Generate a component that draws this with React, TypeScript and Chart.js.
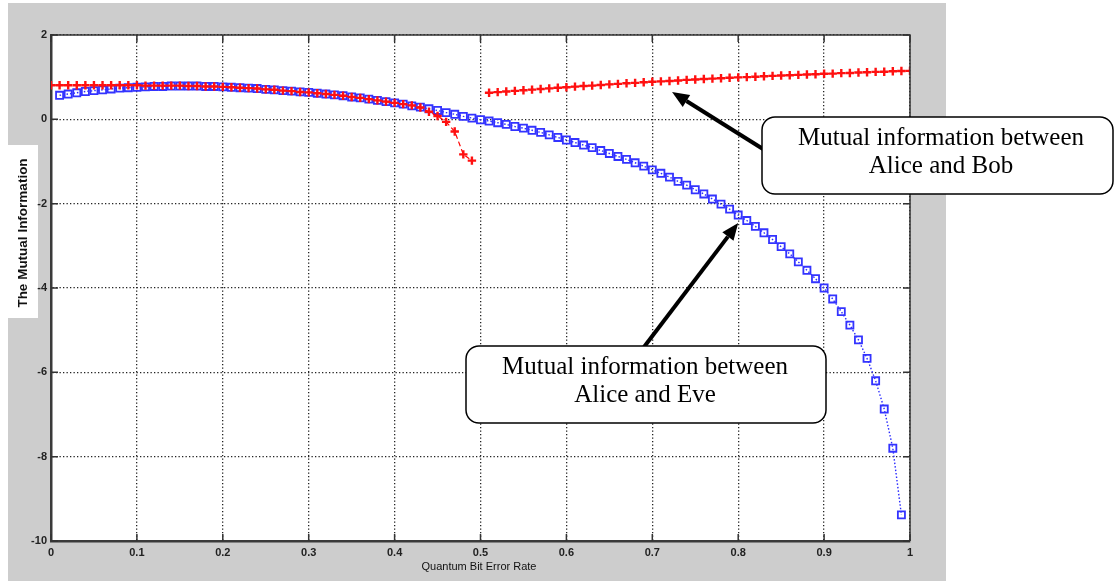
import React, { useEffect, useRef } from "react";
import { Chart, registerables } from "chart.js";

Chart.register(...registerables);

// ---------------- data ----------------
const qber = [
  0.0, 0.01, 0.02, 0.03, 0.04, 0.05, 0.06, 0.07, 0.08, 0.09,
  0.1, 0.11, 0.12, 0.13, 0.14, 0.15, 0.16, 0.17, 0.18, 0.19,
  0.2, 0.21, 0.22, 0.23, 0.24, 0.25, 0.26, 0.27, 0.28, 0.29,
  0.3, 0.31, 0.32, 0.33, 0.34, 0.35, 0.36, 0.37, 0.38, 0.39,
  0.4, 0.41, 0.42, 0.43, 0.44, 0.45, 0.46, 0.47, 0.48, 0.49,
  0.5, 0.51, 0.52, 0.53, 0.54, 0.55, 0.56, 0.57, 0.58, 0.59,
  0.6, 0.61, 0.62, 0.63, 0.64, 0.65, 0.66, 0.67, 0.68, 0.69,
  0.7, 0.71, 0.72, 0.73, 0.74, 0.75, 0.76, 0.77, 0.78, 0.79,
  0.8, 0.81, 0.82, 0.83, 0.84, 0.85, 0.86, 0.87, 0.88, 0.89,
  0.9, 0.91, 0.92, 0.93, 0.94, 0.95, 0.96, 0.97, 0.98, 0.99,
  1.0,
];

// Mutual information between Alice and Bob (red, '+')
const aliceBob: (number | null)[] = [
  0.81, 0.81, 0.81, 0.81, 0.81, 0.81, 0.81, 0.81, 0.81, 0.81,
  0.81, 0.8, 0.8, 0.8, 0.8, 0.8, 0.79, 0.79, 0.78, 0.78,
  0.77, 0.76, 0.75, 0.74, 0.73, 0.71, 0.7, 0.68, 0.67, 0.65,
  0.64, 0.62, 0.6, 0.58, 0.56, 0.53, 0.51, 0.48, 0.45, 0.42,
  0.39, 0.36, 0.33, 0.28, 0.18, 0.08, -0.06, -0.29, -0.83, -0.98,
  null,
  0.63, 0.645, 0.66, 0.675, 0.69, 0.705, 0.72, 0.735, 0.75,
  0.76, 0.775, 0.79, 0.8, 0.815, 0.83, 0.84, 0.855, 0.865, 0.88,
  0.89, 0.9, 0.91, 0.92, 0.935, 0.945, 0.955, 0.965, 0.975, 0.985,
  0.995, 1.0, 1.01, 1.02, 1.03, 1.04, 1.045, 1.055, 1.065, 1.07,
  1.08, 1.085, 1.095, 1.1, 1.11, 1.115, 1.125, 1.13, 1.14, 1.145,
  1.15,
];

// Mutual information between Alice and Eve (blue, squares)
const aliceEve: (number | null)[] = [
  null, 0.57, 0.6, 0.63, 0.66, 0.68, 0.7, 0.72, 0.74, 0.75,
  0.76, 0.77, 0.78, 0.78, 0.79, 0.79, 0.79, 0.79, 0.78, 0.78,
  0.77, 0.76, 0.75, 0.74, 0.73, 0.71, 0.7, 0.68, 0.67, 0.65,
  0.64, 0.62, 0.6, 0.58, 0.56, 0.53, 0.51, 0.48, 0.45, 0.42,
  0.39, 0.36, 0.32, 0.29, 0.25, 0.21, 0.16, 0.12, 0.07, 0.03,
  -0.01, -0.04, -0.08, -0.12, -0.17, -0.21, -0.26, -0.31, -0.37, -0.43,
  -0.49, -0.55, -0.61, -0.67, -0.74, -0.81, -0.88, -0.95, -1.03, -1.11,
  -1.2, -1.28, -1.37, -1.47, -1.56, -1.67, -1.77, -1.89, -2.01, -2.13,
  -2.27, -2.4, -2.54, -2.69, -2.85, -3.02, -3.19, -3.38, -3.58, -3.78,
  -4.0, -4.26, -4.56, -4.88, -5.23, -5.67, -6.2, -6.87, -7.8, -9.38,
  null,
];

const xTicks = [0, 0.1, 0.2, 0.3, 0.4, 0.5, 0.6, 0.7, 0.8, 0.9, 1];
const xTickLabels = ["0", "0.1", "0.2", "0.3", "0.4", "0.5", "0.6", "0.7", "0.8", "0.9", "1"];
const yTicks = [-10, -8, -6, -4, -2, 0, 2];
const yTickLabels = ["-10", "-8", "-6", "-4", "-2", "0", "2"];

const xTitle = "Quantum Bit Error Rate";
const yTitle = "The Mutual Information";
const bobNote = ["Mutual information between", "Alice and Bob"];
const eveNote = ["Mutual information between", "Alice and Eve"];
// arrow tips in data coordinates
const bobTip = { x: 0.723, y: 0.65 };
const eveTip = { x: 0.8, y: -2.46 };

// ---------------- drawing helpers ----------------
function roundBox(ctx: CanvasRenderingContext2D, x: number, y: number, w: number, h: number, r: number) {
  ctx.beginPath();
  ctx.moveTo(x + r, y);
  ctx.lineTo(x + w - r, y);
  ctx.arcTo(x + w, y, x + w, y + r, r);
  ctx.lineTo(x + w, y + h - r);
  ctx.arcTo(x + w, y + h, x + w - r, y + h, r);
  ctx.lineTo(x + r, y + h);
  ctx.arcTo(x, y + h, x, y + h - r, r);
  ctx.lineTo(x, y + r);
  ctx.arcTo(x, y, x + r, y, r);
  ctx.closePath();
}

function arrow(ctx: CanvasRenderingContext2D, x1: number, y1: number, x2: number, y2: number) {
  const headLen = 17;
  const headHalf = 7;
  const ang = Math.atan2(y2 - y1, x2 - x1);
  const bx = x2 - headLen * Math.cos(ang);
  const by = y2 - headLen * Math.sin(ang);
  ctx.save();
  ctx.strokeStyle = "#000";
  ctx.fillStyle = "#000";
  ctx.lineWidth = 4;
  ctx.lineCap = "butt";
  ctx.beginPath();
  ctx.moveTo(x1, y1);
  ctx.lineTo(bx, by);
  ctx.stroke();
  ctx.beginPath();
  ctx.moveTo(x2, y2);
  ctx.lineTo(bx + headHalf * Math.sin(ang), by - headHalf * Math.cos(ang));
  ctx.lineTo(bx - headHalf * Math.sin(ang), by + headHalf * Math.cos(ang));
  ctx.closePath();
  ctx.fill();
  ctx.restore();
}

function callout(ctx: CanvasRenderingContext2D, x: number, y: number, w: number, h: number, lines: string[], cx: number, baselines: number[]) {
  ctx.save();
  roundBox(ctx, x, y, w, h, 13);
  ctx.fillStyle = "#fff";
  ctx.fill();
  ctx.strokeStyle = "#000";
  ctx.lineWidth = 1.5;
  ctx.stroke();
  ctx.fillStyle = "#000";
  ctx.font = "25px 'Liberation Serif', 'Times New Roman', serif";
  ctx.textAlign = "center";
  ctx.textBaseline = "alphabetic";
  lines.forEach((t, i) => ctx.fillText(t, cx, baselines[i]));
  ctx.restore();
}

const framePlugin = {
  id: "matlabFrame",
  beforeDraw(chart: any) {
    const ctx: CanvasRenderingContext2D = chart.ctx;
    const { left, right, top, bottom } = chart.chartArea;
    ctx.save();
    ctx.fillStyle = "#fff";
    ctx.fillRect(0, 0, chart.width, chart.height);
    ctx.fillStyle = "#cdcdcd";
    ctx.fillRect(8, 3, 938, 578);
    ctx.fillStyle = "#fff";
    ctx.fillRect(8, 145, 30, 173);
    ctx.fillRect(left, top, right - left, bottom - top);
    ctx.restore();
  },
  afterDatasetsDraw(chart: any) {
    const ctx: CanvasRenderingContext2D = chart.ctx;
    const { left, right, top, bottom } = chart.chartArea;
    const xs = chart.scales.x;
    const ys = chart.scales.y;
    ctx.save();
    // top / right frame
    ctx.strokeStyle = "#333";
    ctx.lineWidth = 1.5;
    ctx.beginPath();
    ctx.moveTo(left, top);
    ctx.lineTo(right, top);
    ctx.lineTo(right, bottom);
    ctx.stroke();
    // inward tick marks
    ctx.lineWidth = 1.5;
    ctx.strokeStyle = "#333";
    ctx.beginPath();
    xTicks.forEach((v) => {
      const px = xs.getPixelForValue(v);
      ctx.moveTo(px, bottom);
      ctx.lineTo(px, bottom - 7);
      ctx.moveTo(px, top);
      ctx.lineTo(px, top + 7);
    });
    yTicks.forEach((v) => {
      const py = ys.getPixelForValue(v);
      ctx.moveTo(left, py);
      ctx.lineTo(left + 7, py);
      ctx.moveTo(right, py);
      ctx.lineTo(right - 7, py);
    });
    ctx.stroke();

    // axis titles
    ctx.fillStyle = "#111";
    ctx.textAlign = "center";
    ctx.textBaseline = "middle";
    ctx.font = "11px 'Liberation Sans', Arial, sans-serif";
    ctx.fillText(xTitle, 479, 567);
    ctx.save();
    ctx.translate(23, 233);
    ctx.rotate(-Math.PI / 2);
    ctx.font = "bold 13.5px 'Liberation Sans', Arial, sans-serif";
    ctx.fillText(yTitle, 0, 0);
    ctx.restore();

    // annotations
    const bx = xs.getPixelForValue(bobTip.x);
    const by = ys.getPixelForValue(bobTip.y);
    const ex = xs.getPixelForValue(eveTip.x);
    const ey = ys.getPixelForValue(eveTip.y);
    arrow(ctx, 763, 149, bx, by);
    arrow(ctx, 644, 347, ex, ey);
    callout(ctx, 762, 117, 351, 77, bobNote, 941, [145, 172.5]);
    callout(ctx, 466, 346, 360, 77, eveNote, 645, [374, 401.5]);
    ctx.restore();
  },
};

const tickFont = { family: "'Liberation Sans', Arial, sans-serif", size: 11, weight: "bold" as const };

export default function App() {
  const ref = useRef<HTMLCanvasElement | null>(null);

  useEffect(() => {
    if (!ref.current) return;
    const chart = new Chart(ref.current, {
      type: "line",
      data: {
        datasets: [
          {
            label: "Alice and Bob",
            data: qber.map((x, i) => ({ x, y: aliceBob[i] })) as any,
            borderColor: "#ff0000",
            borderWidth: 1.2,
            borderDash: [5, 3],
            pointStyle: "cross",
            pointRadius: 4.2,
            pointBorderWidth: 2.4,
            pointBorderColor: "#ff1010",
            pointBackgroundColor: "#ff0000",
            spanGaps: false,
            fill: false,
            tension: 0,
          },
          {
            label: "Alice and Eve",
            data: qber.map((x, i) => ({ x, y: aliceEve[i] })) as any,
            borderColor: "#2a2aff",
            borderWidth: 1.4,
            borderDash: [1.5, 2],
            pointStyle: "rect",
            pointRadius: 5,
            pointBorderWidth: 1.8,
            pointBorderColor: "#3333ff",
            pointBackgroundColor: "rgba(255,255,255,0)",
            spanGaps: false,
            fill: false,
            tension: 0,
          },
        ],
      },
      options: {
        responsive: false,
        animation: false,
        devicePixelRatio: 1,
        layout: { padding: { left: 0, top: 35, right: 205, bottom: 0 } },
        plugins: { legend: { display: false }, tooltip: { enabled: false } },
        scales: {
          x: {
            type: "linear",
            min: 0,
            max: 1,
            afterBuildTicks: (s: any) => {
              s.ticks = xTicks.map((v) => ({ value: v }));
            },
            afterFit: (s: any) => {
              s.height = 41;
            },
            ticks: {
              callback: (_v: any, i: number) => xTickLabels[i],
              font: tickFont,
              color: "#222",
              padding: 5,
              maxRotation: 0,
              autoSkip: false,
            },
            grid: { color: "#222", lineWidth: 1.3, drawTicks: false },
            border: { display: true, color: "#3a3a3a", width: 2.5, dash: [1.3, 2.2] },
          },
          y: {
            type: "linear",
            min: -10,
            max: 2,
            afterBuildTicks: (s: any) => {
              s.ticks = yTicks.map((v) => ({ value: v }));
            },
            afterFit: (s: any) => {
              s.width = 51;
            },
            ticks: {
              callback: (_v: any, i: number) => yTickLabels[i],
              font: tickFont,
              color: "#222",
              padding: 4,
              autoSkip: false,
            },
            grid: { color: "#222", lineWidth: 1.3, drawTicks: false },
            border: { display: true, color: "#3a3a3a", width: 2.5, dash: [1.3, 2.2] },
          },
        },
      },
      plugins: [framePlugin],
    });
    return () => chart.destroy();
  }, []);

  return (
    <div style={{ position: "fixed", left: 0, top: 0, width: 1115, height: 582, background: "#fff" }}>
      <canvas ref={ref} width={1115} height={582} style={{ display: "block", width: 1115, height: 582 }} />
    </div>
  );
}
